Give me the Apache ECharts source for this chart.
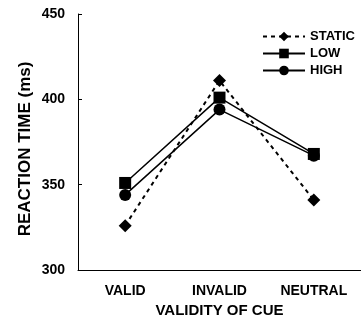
<!DOCTYPE html>
<html>
<head>
<meta charset="utf-8">
<script src="https://cdn.jsdelivr.net/npm/echarts@6/dist/echarts.min.js"></script>
<style>
  html, body { margin: 0; padding: 0; background: #fff; }
  #chart { width: 361px; height: 323px; }
</style>
</head>
<body>
<div id="chart"></div>
<script>
// validity conditions on the x axis
const cues = ['VALID', 'INVALID', 'NEUTRAL'];
// reaction times (ms) per condition
const staticRT = [326, 411, 341];
const lowRT = [351, 401, 368];
const highRT = [344, 394, 367];

const font = 'Liberation Sans, Arial, sans-serif';

const chart = echarts.init(document.getElementById('chart'));

const mkSeries = (name, data, symbol, size, dashed) => ({
  name,
  type: 'line',
  data,
  symbol,
  symbolSize: size,
  showSymbol: true,
  itemStyle: { color: '#000' },
  lineStyle: {
    color: '#000',
    width: dashed ? 2 : 1.5,
    type: dashed ? [4, 4] : 'solid',
  },
  emphasis: { disabled: true },
  z: dashed ? 3 : 2,
});

chart.setOption({
  animation: false,
  backgroundColor: '#fff',
  textStyle: { fontFamily: font },
  legend: {
    orient: 'vertical',
    left: 257,
    top: 25,
    itemWidth: 42,
    itemHeight: 12,
    itemGap: 4,
    textStyle: { fontFamily: font, fontWeight: 'bold', fontSize: 13, color: '#000' },
    data: ['STATIC', 'LOW', 'HIGH'],
  },
  grid: { left: 78, right: -4, top: 14, bottom: 50 },
  xAxis: {
    type: 'category',
    data: cues,
    boundaryGap: true,
    name: 'VALIDITY OF CUE',
    nameLocation: 'middle',
    nameGap: 33,
    nameTextStyle: { fontFamily: font, fontWeight: 'bold', fontSize: 15, color: '#000' },
    axisLine: { lineStyle: { color: '#000', width: 1 } },
    axisTick: { inside: true, length: 4, lineStyle: { color: '#000' } },
    axisLabel: { margin: 14, fontFamily: font, fontWeight: 'bold', fontSize: 14, color: '#000' },
  },
  yAxis: {
    type: 'value',
    min: 300,
    max: 450,
    interval: 50,
    name: 'REACTION TIME (ms)',
    nameLocation: 'middle',
    nameGap: 44,
    nameMoveOverlap: false,
    nameTextStyle: { fontFamily: font, fontWeight: 'bold', fontSize: 17, color: '#000', padding: [0, 14, 0, 0] },
    axisLine: { show: true, lineStyle: { color: '#000', width: 1 } },
    axisTick: { show: true, inside: true, length: 4, lineStyle: { color: '#000' } },
    splitLine: { show: false },
    axisLabel: { margin: 13, fontFamily: font, fontWeight: 'bold', fontSize: 14, color: '#000' },
  },
  series: [
    mkSeries('STATIC', staticRT, 'diamond', 13, true),
    mkSeries('LOW', lowRT, 'rect', 12, false),
    mkSeries('HIGH', highRT, 'circle', 12, false),
  ],
});
</script>
</body>
</html>
